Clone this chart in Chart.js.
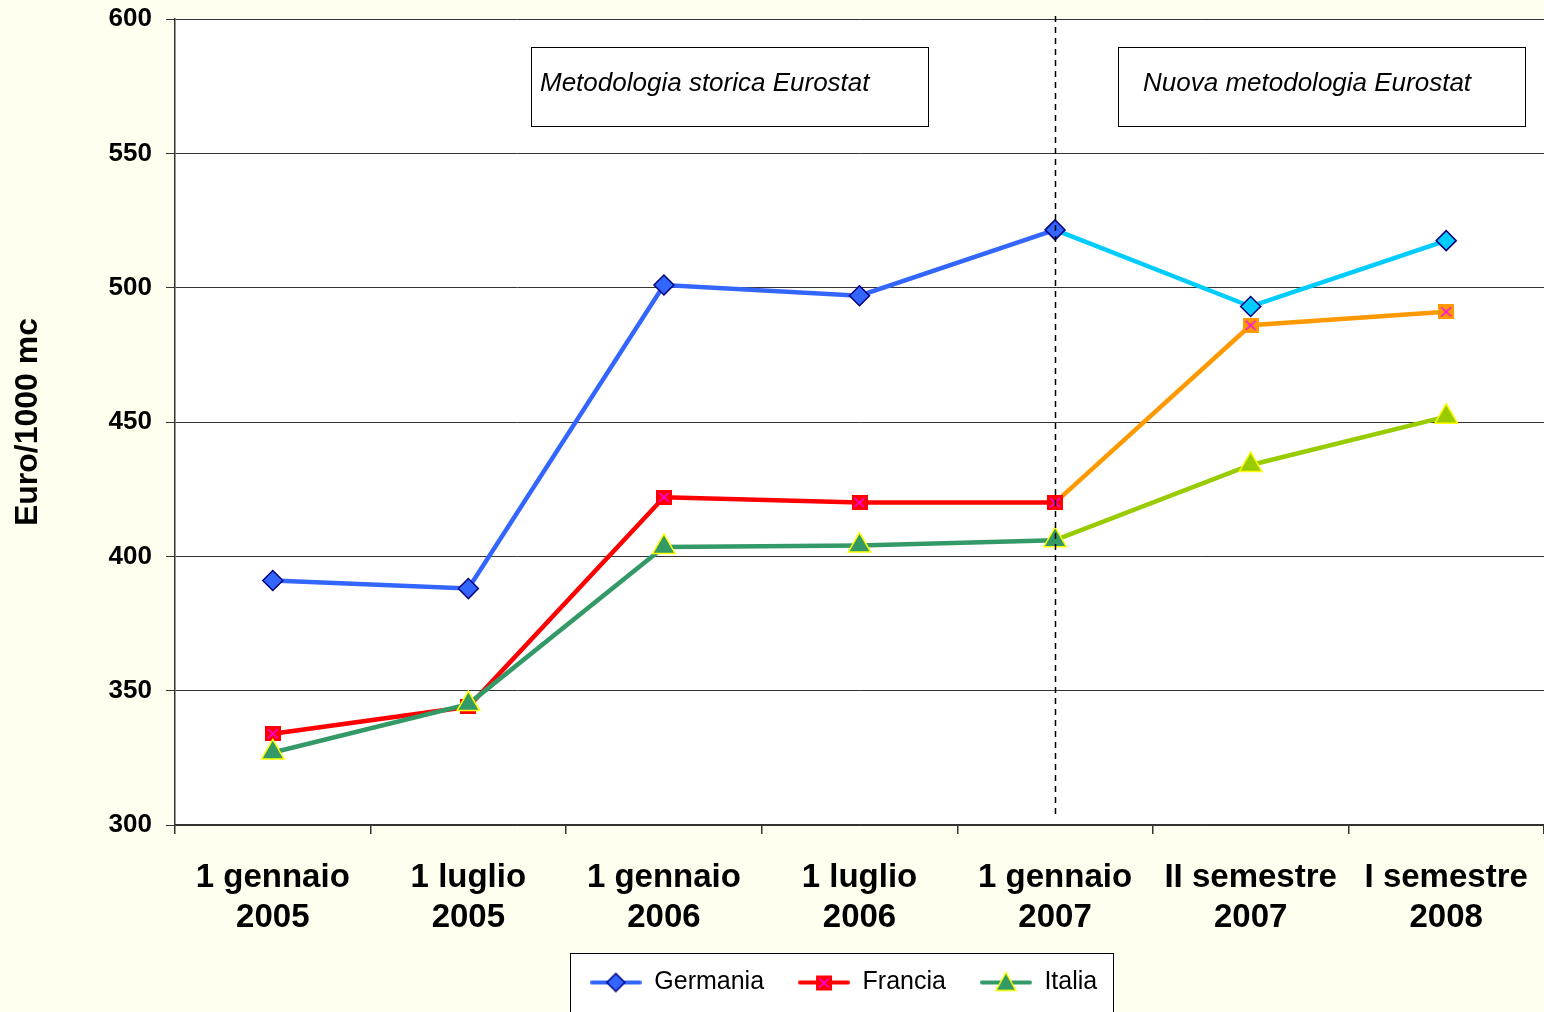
<!DOCTYPE html>
<html>
<head>
<meta charset="utf-8">
<script src="https://cdn.jsdelivr.net/npm/chart.js@4/dist/chart.umd.min.js"></script>
<style>
  html, body { margin: 0; padding: 0; background: #FFFFF0; overflow: hidden; }
  #wrap { width: 1544px; height: 1012px; }
  canvas { display: block; }
</style>
</head>
<body>
<div id="wrap"><canvas id="chart"></canvas></div>
<script>
const categories = [
    ['1 gennaio', '2005'], ['1 luglio', '2005'], ['1 gennaio', '2006'], ['1 luglio', '2006'],
    ['1 gennaio', '2007'], ['II semestre', '2007'], ['I semestre', '2008']
];
const germania = [391, 388, 501, 497, 521.5, 493, 517.5];
const francia = [334, 344, 422, 420, 420, 486, 491];
const italia = [327, 345, 403.5, 404, 406, 434, 452];
const splitIndex = 4; // from here on: nuova metodologia Eurostat

const FONT = "'Liberation Sans', Arial, sans-serif";

// marker images
function squareX(fill) {
    const c = document.createElement('canvas');
    c.width = 16; c.height = 15;
    const g = c.getContext('2d');
    g.fillStyle = fill;
    g.fillRect(0, 0, 16, 15);
    g.strokeStyle = '#FF00FF';
    g.lineWidth = 1.5;
    g.beginPath();
    g.moveTo(3, 3); g.lineTo(13, 12);
    g.moveTo(13, 3); g.lineTo(3, 12);
    g.stroke();
    return c;
}
const redSq = squareX('#FF0000');
const orangeSq = squareX('#FF9900');

function legendIcon(color, drawMarker) {
    const c = document.createElement('canvas');
    c.width = 52; c.height = 24;
    const g = c.getContext('2d');
    g.strokeStyle = color;
    g.lineWidth = 4;
    g.lineCap = 'round';
    g.beginPath();
    g.moveTo(2, 12); g.lineTo(50, 12);
    g.stroke();
    drawMarker(g, 26, 12);
    return c;
}
const iconGermania = legendIcon('#3366FF', (g, x, y) => {
    g.fillStyle = '#3366FF'; g.strokeStyle = '#000080'; g.lineWidth = 1.5;
    g.beginPath();
    g.moveTo(x, y - 9); g.lineTo(x + 9, y); g.lineTo(x, y + 9); g.lineTo(x - 9, y); g.closePath();
    g.fill(); g.stroke();
});
const iconFrancia = legendIcon('#FF0000', (g, x, y) => {
    g.drawImage(redSq, x - 8, y - 7);
});
const iconItalia = legendIcon('#339966', (g, x, y) => {
    g.fillStyle = '#339966'; g.strokeStyle = '#FFFF00'; g.lineWidth = 1.5;
    g.beginPath();
    g.moveTo(x, y - 10); g.lineTo(x + 10, y + 8); g.lineTo(x - 10, y + 8); g.closePath();
    g.fill(); g.stroke();
});

function perPoint(before, after) {
    return categories.map((_, i) => i > splitIndex ? after : before);
}
function segColor(after) {
    return ctx => ctx.p0DataIndex >= splitIndex ? after : undefined;
}

const LEGEND_SHIFT = -16;

const chartAreaBg = {
    id: 'chartAreaBg',
    afterLayout(chart) {
        // legend sits a little left of the plot centre
        const lg = chart.legend;
        if (lg) {
            lg.left += LEGEND_SHIFT;
            lg.right += LEGEND_SHIFT;
            (lg.legendHitBoxes || []).forEach(hb => { hb.left += LEGEND_SHIFT; });
        }
    },
    beforeDraw(chart) {
        const { ctx, chartArea: a } = chart;
        ctx.save();
        ctx.fillStyle = '#FFFFF0';
        ctx.fillRect(0, 0, chart.width, chart.height);
        ctx.fillStyle = '#FFFFFF';
        ctx.fillRect(a.left, a.top, a.right - a.left, a.bottom - a.top);
        // legend frame
        const lg = chart.legend;
        if (lg && lg.legendHitBoxes && lg.legendHitBoxes.length) {
            const hb = lg.legendHitBoxes;
            const x0 = Math.round(hb[0].left - 20);
            const x1 = Math.round(hb[hb.length - 1].left + hb[hb.length - 1].width + 16);
            const y0 = Math.round(hb[0].top - 17);
            ctx.fillStyle = '#FFFFFF';
            ctx.fillRect(x0, y0, x1 - x0, chart.height - y0 + 2);
            ctx.strokeStyle = '#000000';
            ctx.lineWidth = 1;
            ctx.strokeRect(x0 + 0.5, y0 + 0.5, x1 - x0, chart.height - y0 + 5);
        }
        ctx.restore();
    }
};

const annotations = {
    id: 'annotations',
    afterDatasetsDraw(chart) {
        const { ctx } = chart;
        const x = chart.scales.x.getPixelForValue(splitIndex);
        ctx.save();
        ctx.strokeStyle = '#000000';
        ctx.lineWidth = 1.5;
        ctx.setLineDash([6, 5]);
        ctx.beginPath();
        ctx.moveTo(Math.round(x) + 0.5, 16);
        ctx.lineTo(Math.round(x) + 0.5, 817);
        ctx.stroke();
        ctx.setLineDash([]);
        const boxes = [
            { x: 531, w: 397, text: 'Metodologia storica Eurostat', tx: 540 },
            { x: 1118, w: 407, text: 'Nuova metodologia Eurostat', tx: 1143 }
        ];
        ctx.font = 'italic 26px ' + FONT;
        ctx.textBaseline = 'middle';
        boxes.forEach(b => {
            ctx.fillStyle = '#FFFFFF';
            ctx.fillRect(b.x, 47, b.w, 79);
            ctx.strokeStyle = '#000000';
            ctx.lineWidth = 1;
            ctx.strokeRect(b.x + 0.5, 47.5, b.w, 79);
            ctx.fillStyle = '#000000';
            ctx.fillText(b.text, b.tx, 84);
        });
        ctx.restore();
    }
};

new Chart(document.getElementById('chart'), {
    type: 'line',
    data: {
        labels: categories,
        datasets: [
            {
                label: 'Germania',
                data: germania,
                order: 2,
                borderColor: '#3366FF',
                borderWidth: 4.5,
                segment: { borderColor: segColor('#00CCFF') },
                pointStyle: 'rectRot',
                pointRadius: 10,
                pointHoverRadius: 10,
                pointBackgroundColor: perPoint('#3366FF', '#00CCFF'),
                pointBorderColor: '#000080',
                pointBorderWidth: 1.5,
                legendIcon: iconGermania
            },
            {
                label: 'Francia',
                data: francia,
                order: 1,
                borderColor: '#FF0000',
                borderWidth: 4.5,
                segment: { borderColor: segColor('#FF9900') },
                pointStyle: perPoint(redSq, orangeSq),
                pointRadius: 8,
                legendIcon: iconFrancia
            },
            {
                label: 'Italia',
                data: italia,
                order: 0,
                borderColor: '#339966',
                borderWidth: 4.5,
                segment: { borderColor: segColor('#99CC00') },
                pointStyle: 'triangle',
                pointRadius: 13,
                pointHoverRadius: 13,
                pointBackgroundColor: perPoint('#339966', '#99CC00'),
                pointBorderColor: '#FFFF00',
                pointBorderWidth: 1.5,
                legendIcon: iconItalia
            }
        ]
    },
    options: {
        responsive: true,
        maintainAspectRatio: false,
        animation: false,
        layout: { autoPadding: false, padding: { top: 19, right: 0, left: 0, bottom: 7 } },
        plugins: {
            tooltip: { enabled: false },
            legend: {
                position: 'bottom',
                fullSize: false,
                labels: {
                    font: { family: FONT, size: 25 },
                    color: '#000000',
                    usePointStyle: true,
                    pointStyleWidth: 52,
                    padding: 34,
                    sort: (a, b) => a.datasetIndex - b.datasetIndex,
                    generateLabels(chart) {
                        return chart.data.datasets.map((ds, i) => ({
                            text: ds.label,
                            datasetIndex: i,
                            pointStyle: ds.legendIcon,
                            fillStyle: 'transparent',
                            strokeStyle: 'transparent',
                            lineWidth: 0,
                            hidden: false,
                            fontColor: '#000000'
                        }));
                    }
                }
            }
        },
        scales: {
            x: {
                offset: true,
                grid: {
                    offset: true,
                    drawOnChartArea: false,
                    drawTicks: true,
                    tickLength: 9,
                    color: '#333333',
                    lineWidth: 1.5
                },
                border: { color: '#333333', width: 1.5 },
                ticks: {
                    font: { family: FONT, size: 33, weight: 'bold', lineHeight: 1.21 },
                    color: '#000000',
                    padding: 24,
                    maxRotation: 0,
                    autoSkip: false
                },
                afterFit(scale) {
                    const lg = scale.chart.legend;
                    const lh = lg && lg.height ? lg.height : 69;
                    scale.height = 1012 - 7 - lh - 825;
                    scale.paddingLeft = 0;
                    scale.paddingRight = 0;
                }
            },
            y: {
                min: 300,
                max: 600,
                ticks: {
                    stepSize: 50,
                    font: { family: FONT, size: 26, weight: 'bold' },
                    color: '#000000',
                    padding: 14
                },
                grid: {
                    color: '#333333',
                    lineWidth: 1,
                    tickLength: 9
                },
                border: { color: '#333333', width: 1.5 },
                title: {
                    display: true,
                    text: 'Euro/1000 mc',
                    font: { family: FONT, size: 32, weight: 'bold' },
                    color: '#000000',
                    padding: { top: 9, bottom: 0 }
                },
                afterFit(scale) {
                    scale.width = 175;
                    scale.paddingTop = 0;
                    scale.paddingBottom = 0;
                }
            }
        }
    },
    plugins: [chartAreaBg, annotations]
});
</script>
</body>
</html>
